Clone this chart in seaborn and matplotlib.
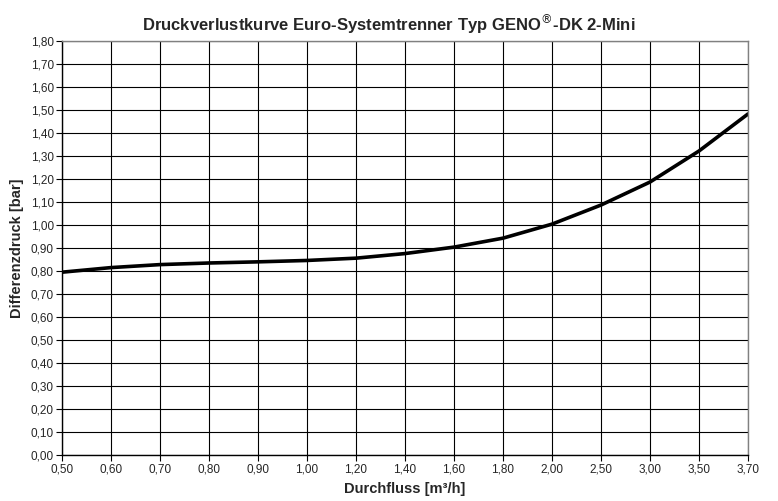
import numpy as np
import pandas as pd
import matplotlib
matplotlib.use("Agg")
import matplotlib.pyplot as plt
from matplotlib.ticker import FuncFormatter, MultipleLocator
import seaborn as sns

# values
durchfluss = ['0,50', '0,60', '0,70', '0,80', '0,90', '1,00', '1,20',
              '1,40', '1,60', '1,80', '2,00', '2,50', '3,00', '3,50', '3,70']
differenzdruck = [0.795, 0.815, 0.828, 0.835, 0.840, 0.846, 0.856,
                  0.876, 0.904, 0.943, 1.004, 1.087, 1.187, 1.322, 1.483]

df = pd.DataFrame({'Durchfluss': durchfluss, 'Differenzdruck': differenzdruck})

sns.set_style('white')
plt.rcParams['font.family'] = ['Liberation Sans', 'DejaVu Sans']

fig, ax = plt.subplots(figsize=(7.78, 5.01), dpi=100)
fig.subplots_adjust(left=0.0797, right=0.9614, top=0.918, bottom=0.0918)

sns.lineplot(data=df, x='Durchfluss', y='Differenzdruck', color='black',
             linewidth=2.6, ax=ax, sort=False)
ax.lines[0].set_solid_joinstyle('round')

ax.set_xlim(0, len(durchfluss) - 1)
ax.set_ylim(0, 1.8)
ax.yaxis.set_major_locator(MultipleLocator(0.1))
ax.yaxis.set_major_formatter(FuncFormatter(lambda v, p: ('%.2f' % v).replace('.', ',')))

ax.grid(True, color='black', linewidth=0.8)
ax.set_axisbelow(True)
for s in ['top', 'right']:
    ax.spines[s].set_color('#808080')
for s in ['left', 'bottom']:
    ax.spines[s].set_color('black')
for s in ax.spines.values():
    s.set_linewidth(1.0)

ax.tick_params(axis='both', direction='out', length=4, width=0.8,
               labelsize=8.5, color='black', pad=2, bottom=True, left=True)

ax.set_xlabel('Durchfluss [m³/h]', fontsize=10.5, fontweight='bold', labelpad=5)
ax.set_ylabel('Differenzdruck [bar]', fontsize=10.5, fontweight='bold', labelpad=5)
fig.suptitle('Druckverlustkurve Euro-Systemtrenner Typ GENO$^{®}$-DK 2-Mini',
             fontsize=12, fontweight='bold', x=0.5, y=0.975)

fig.savefig('out.png', dpi=100)
